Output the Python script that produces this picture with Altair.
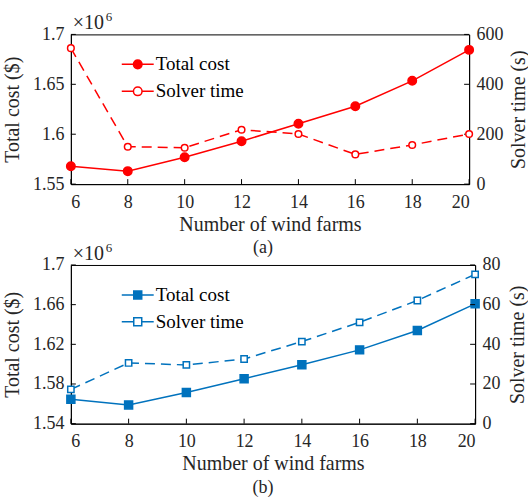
import altair as alt
import pandas as pd

# ---------------- data ----------------
farms = [6, 8, 10, 12, 14, 16, 18, 20]

cost_a = [1.568, 1.563, 1.577, 1.593, 1.6105, 1.628, 1.6535, 1.6845]   # x10^6 $
time_a = [545, 150, 146, 218, 201, 119, 157, 201]                       # s

cost_b = [1.5647, 1.5589, 1.5715, 1.5853, 1.5995, 1.6144, 1.634, 1.6608]  # x10^6 $
time_b = [17.3, 30.6, 29.6, 32.6, 41.4, 51.1, 62.1, 75.3]                 # s

x_ticks = [6, 8, 10, 12, 14, 16, 18, 20]
cost_ticks_a = [1.55, 1.6, 1.65, 1.7]
time_ticks_a = [0, 200, 400, 600]
cost_ticks_b = [1.54, 1.58, 1.62, 1.66, 1.7]
time_ticks_b = [0, 20, 40, 60, 80]

series = ["Total cost", "Solver time"]

FONT = "Liberation Serif"
TXT = "#262626"
LEG_PATH = ("M-1,0H-0.27 M0.27,0H1 "
            "M0.27,0A0.27,0.27 0 1,1 -0.27,0A0.27,0.27 0 1,1 0.27,0Z")
LEG_PATH_SQ = ("M-1,0H-0.25 M0.25,0H1 "
               "M-0.25,-0.25H0.25V0.25H-0.25Z")


def panel(cost, time, cost_ticks, time_ticks, color, shape, leg_path,
          size_f, size_h, w, h, caption, cap_dx, right_pad, anchor_mark):
    df = pd.DataFrame({"farms": farms, "cost": cost, "time": time})
    base = alt.Chart(df)

    xs = alt.Scale(domain=[6, 20], nice=False, zero=False)
    ys_c = alt.Scale(domain=[cost_ticks[0], cost_ticks[-1]], nice=False, zero=False)
    ys_t = alt.Scale(domain=[time_ticks[0], time_ticks[-1]], nice=False, zero=False)
    s_scale = alt.Scale(domain=series, range=[color, color])
    f_scale = alt.Scale(domain=series, range=[color, "white"])
    legend = alt.Legend(orient="none", legendX=50, legendY=13, title=None,
                        symbolType=leg_path, symbolSize=1024,
                        symbolStrokeWidth=1.5, labelFont=FONT,
                        labelFontSize=19, labelColor="black", labelOffset=1,
                        rowPadding=-8, symbolLimit=5)

    x_axis = alt.Axis(values=x_ticks, title="Number of wind farms")
    c_axis = alt.Axis(orient="left", values=cost_ticks, format="~g",
                      title="Total cost ($)", titlePadding=10)
    t_axis = alt.Axis(orient="right", values=time_ticks,
                      title="Solver time (s)", titleAngle=270,
                      titleBaseline="top", titlePadding=right_pad)

    x_enc = alt.X("farms:Q", scale=xs, axis=x_axis)
    y_c = alt.Y("cost:Q", scale=ys_c, axis=c_axis)
    y_t = alt.Y("time:Q", scale=ys_t, axis=t_axis)

    c_base = base.transform_calculate(series="'Total cost'")
    t_base = base.transform_calculate(series="'Solver time'")

    cost_line = c_base.mark_line(strokeWidth=1.5).encode(
        x=x_enc, y=y_c,
        stroke=alt.Stroke("series:N", scale=s_scale, legend=legend))
    cost_pts = c_base.mark_point(shape=shape, filled=True, size=size_f,
                                 strokeWidth=1.5, opacity=1).encode(
        x=x_enc, y=y_c,
        stroke=alt.Stroke("series:N", scale=s_scale, legend=legend),
        fill=alt.Fill("series:N", scale=f_scale, legend=legend))

    time_line = t_base.mark_line(strokeWidth=1.5, strokeDash=[10, 6]).encode(
        x=x_enc, y=y_t,
        stroke=alt.Stroke("series:N", scale=s_scale, legend=legend))
    time_pts = t_base.mark_point(shape=shape, filled=True, size=size_h,
                                 strokeWidth=1.5, opacity=1).encode(
        x=x_enc, y=y_t,
        stroke=alt.Stroke("series:N", scale=s_scale, legend=legend),
        fill=alt.Fill("series:N", scale=f_scale, legend=legend))

    # inward tick marks (MATLAB style)
    lt = alt.Chart(pd.DataFrame({"cost": cost_ticks})).mark_rule(
        color="black", strokeWidth=1).encode(
        y=y_c, x=alt.value(0), x2=alt.value(5))
    bt = alt.Chart(pd.DataFrame({"farms": x_ticks})).mark_rule(
        color="black", strokeWidth=1).encode(
        x=x_enc, y=alt.value(h), y2=alt.value(h - 5))
    rt = alt.Chart(pd.DataFrame({"time": time_ticks})).mark_rule(
        color="black", strokeWidth=1).encode(
        y=y_t, x=alt.value(w - 5), x2=alt.value(w))

    # x10^6 exponent label
    ann = pd.DataFrame({"t": ["×10"], "e": ["6"]})
    exp1 = alt.Chart(ann).mark_text(font=FONT, fontSize=20, color=TXT,
                                    align="left", baseline="alphabetic").encode(
        text="t:N", x=alt.value(2), y=alt.value(-5))
    exp2 = alt.Chart(ann).mark_text(font=FONT, fontSize=13, color=TXT,
                                    align="left", baseline="alphabetic").encode(
        text="e:N", x=alt.value(35), y=alt.value(-13))

    layers = [lt, bt, cost_line, cost_pts, exp1, exp2]
    if anchor_mark:
        # invisible layout anchor: fixes the page position of the plot area
        anchor = alt.Chart(ann).mark_rule(strokeOpacity=0, strokeWidth=1).encode(
            x=alt.value(-70.5), x2=alt.value(-70.5),
            y=alt.value(-33.5), y2=alt.value(-33.5))
        layers.append(anchor)
    left = alt.layer(*layers)
    right = alt.layer(rt, time_line, time_pts)
    return alt.layer(left, right).resolve_scale(y="independent").properties(
        width=w, height=h,
        title=alt.TitleParams(caption, orient="bottom", font=FONT, fontSize=18,
                              fontWeight="normal", color=TXT, offset=5,
                              dx=cap_dx))


top = panel(cost_a, time_a, cost_ticks_a, time_ticks_a, "#ff0000", "circle",
            LEG_PATH, 72, 44, 399, 150, "(a)", -7, 5, True)
bottom = panel(cost_b, time_b, cost_ticks_b, time_ticks_b, "#0072bd", "square",
               LEG_PATH_SQ, 64, 40, 405, 159, "(b)", -10, 7, False)

chart = alt.vconcat(top, bottom, spacing=81, bounds="flush").resolve_scale(
    x="independent", y="independent", stroke="independent", fill="independent"
).resolve_legend(stroke="independent", fill="independent").configure(
    padding={"left": 0, "top": 0, "right": -1, "bottom": 0},
    background="white",
).configure_view(stroke="black", strokeWidth=1).configure_axis(
    labelFont=FONT, labelFontSize=18, labelColor=TXT,
    titleFont=FONT, titleFontSize=20, titleColor=TXT, titleFontWeight="normal",
    domainColor="black", domainWidth=1, tickSize=0, labelPadding=7,
    grid=False,
).configure_axisX(labelPadding=9, titlePadding=3).configure_legend(
    labelFont=FONT, labelFontSize=19, labelColor="black"
).configure_text(font=FONT)

chart.save("out.html", embed_options={"renderer": "svg", "actions": False})
